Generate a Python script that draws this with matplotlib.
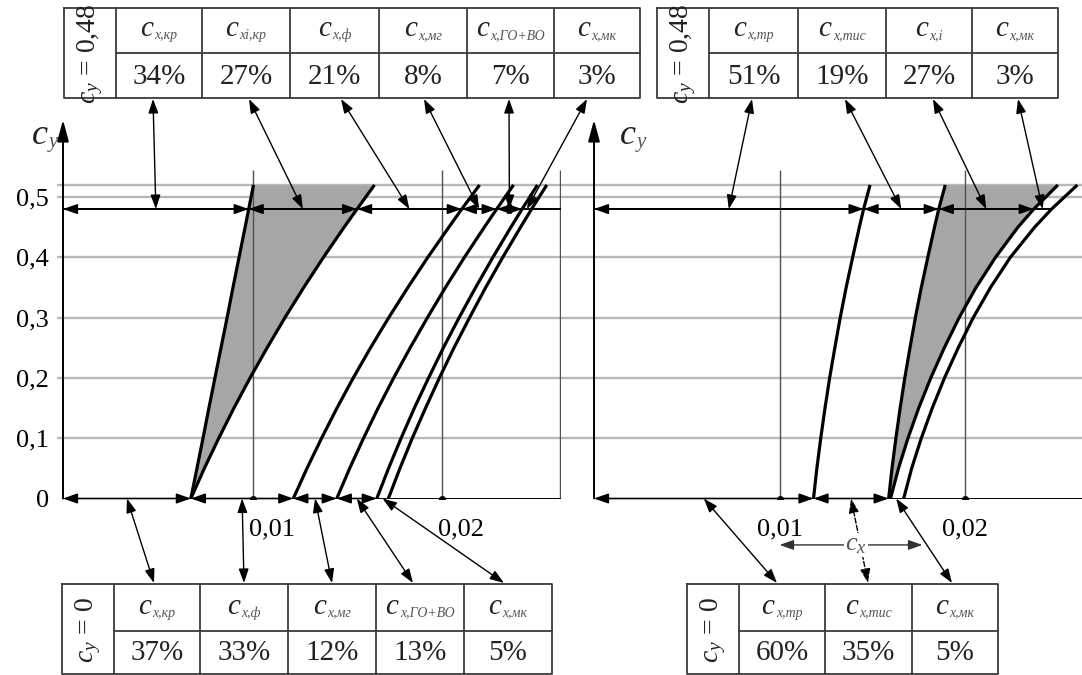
import numpy as np
import matplotlib.pyplot as plt
from matplotlib.patches import ConnectionPatch
from matplotlib.transforms import blended_transform_factory
from matplotlib.offsetbox import TextArea, HPacker, AnnotationBbox

plt.rcParams['font.family'] = ['Liberation Serif', 'DejaVu Serif']
plt.rcParams['mathtext.fontset'] = 'custom'
plt.rcParams['mathtext.rm'] = 'Liberation Serif'
plt.rcParams['mathtext.it'] = 'Liberation Serif:italic'
plt.rcParams['mathtext.bf'] = 'Liberation Serif:bold'

W, H = 1082, 675

# ---- data ----
cy_pts = [0.0, 0.05, 0.1, 0.15, 0.2, 0.25, 0.3, 0.35, 0.4, 0.45, 0.48, 0.52]

# left panel: build-up by aircraft parts
cx_wing = [0.00674, 0.00706, 0.00738, 0.00769, 0.00801, 0.00833,
           0.00865, 0.00896, 0.00928, 0.00960, 0.00979, 0.01004]
cx_wing_ind = [0.00674, 0.00745, 0.00821, 0.00901, 0.00986, 0.01076,
               0.01170, 0.01269, 0.01373, 0.01482, 0.01550, 0.01642]
cx_fus = [0.01214, 0.01286, 0.01363, 0.01444, 0.01530, 0.01621,
          0.01717, 0.01818, 0.01923, 0.02034, 0.02102, 0.02196]
cx_nac = [0.01443, 0.01511, 0.01584, 0.01661, 0.01743, 0.01830,
          0.01921, 0.02016, 0.02116, 0.02221, 0.02286, 0.02375]
cx_tail = [0.01654, 0.01716, 0.01782, 0.01852, 0.01927, 0.02005,
           0.02088, 0.02175, 0.02266, 0.02361, 0.02420, 0.02501]
cx_total = [0.01715, 0.01776, 0.01841, 0.01911, 0.01984, 0.02061,
            0.02143, 0.02228, 0.02318, 0.02412, 0.02470, 0.02550]

# right panel: build-up by drag type
cx_fric = [0.01183, 0.01201, 0.01222, 0.01245, 0.01270, 0.01298,
           0.01327, 0.01359, 0.01394, 0.01430, 0.01453, 0.01488]
cx_prof = [0.01588, 0.01606, 0.01627, 0.01650, 0.01675, 0.01703,
           0.01732, 0.01764, 0.01799, 0.01835, 0.01858, 0.01893]
cx_ind = [0.01598, 0.01641, 0.01692, 0.01750, 0.01815, 0.01888,
          0.01968, 0.02059, 0.02164, 0.02285, 0.02370, 0.02500]
cx_sum = [0.01669, 0.01712, 0.01764, 0.01823, 0.01889, 0.01963,
          0.02044, 0.02137, 0.02244, 0.02375, 0.02466, 0.02605]

cy_ticks = [0, 0.1, 0.2, 0.3, 0.4, 0.5]
cy_tick_labels = ['0', '0,1', '0,2', '0,3', '0,4', '0,5']
cx_ticks = [0.01, 0.02]
cx_tick_labels = ['0,01', '0,02']
cy_top = 0.52
cy_cut = 0.48

subs_tl = ['x,кр', 'xi,кр', 'x,ф', 'x,мг', 'x,ГО+ВО', 'x,мк']
vals_tl = ['34%', '27%', '21%', '8%', '7%', '3%']
subs_bl = ['x,кр', 'x,ф', 'x,мг', 'x,ГО+ВО', 'x,мк']
vals_bl = ['37%', '33%', '12%', '13%', '5%']
subs_tr = ['x,тр', 'x,тис', 'x,i', 'x,мк']
vals_tr = ['51%', '19%', '27%', '3%']
subs_br = ['x,тр', 'x,тис', 'x,мк']
vals_br = ['60%', '35%', '5%']


def fr(x0, y0, x1, y1):
    return [x0 / W, 1 - y1 / H, (x1 - x0) / W, (y1 - y0) / H]


fig = plt.figure(figsize=(W / 100, H / 100), dpi=100)

# overlay in pixel coords for tables and loose text
ov = fig.add_axes([0, 0, 1, 1])
ov.set_xlim(0, W)
ov.set_ylim(H, 0)
ov.axis('off')
ov.set_zorder(3)

axL = fig.add_axes(fr(63, 118.6, 561, 498.5))
axR = fig.add_axes(fr(594, 118.6, 1082, 498.5))
for ax in (axL, axR):
    ax.set_facecolor('none')
    for s in ax.spines.values():
        s.set_visible(False)

ARW = '<|-|>,head_length=0.85,head_width=0.3'
i48 = cy_pts.index(cy_cut)
cx_edge = 0.0262

# grid lines running across both panels
trans = blended_transform_factory(fig.transFigure, axL.transData)
axL.hlines(cy_ticks[1:] + [cy_top], 57 / W, 1.0, transform=trans,
           colors='#b8b8b8', lw=1.7, zorder=0.5, clip_on=False)


def dims(ax, xs, y):
    for a, b in zip(xs[:-1], xs[1:]):
        ax.annotate('', xy=(b, y), xytext=(a, y), annotation_clip=False,
                    arrowprops=dict(arrowstyle=ARW, mutation_scale=10, lw=1.2,
                                    color='k', shrinkA=0, shrinkB=0))


def yaxis_arrow(ax):
    ax.annotate('', xy=(0, 0.628), xytext=(0, 0), annotation_clip=False,
                arrowprops=dict(arrowstyle='-|>,head_length=1.3,head_width=0.35',
                                mutation_scale=10, lw=1.4, color='k',
                                shrinkA=0, shrinkB=0))


def csub(x, y, sub, big=21, small=10, color='#222222'):
    b = TextArea('c', textprops=dict(fontsize=big, style='italic', color=color))
    s = TextArea(sub, textprops=dict(fontsize=small, style='italic', color='#555555'))
    box = HPacker(children=[b, s], align='bottom', pad=0, sep=1)
    ab = AnnotationBbox(box, (x, y), xycoords='data', frameon=False,
                        box_alignment=(0.5, 0.5), pad=0)
    ov.add_artist(ab)


# ---- left panel ----
axL.fill_betweenx(cy_pts, cx_wing, cx_wing_ind, color='#a6a6a6', lw=0, zorder=1)
for c in (cx_wing, cx_wing_ind, cx_fus, cx_nac, cx_tail, cx_total):
    axL.plot(c, cy_pts, color='k', lw=2.3, zorder=3, solid_capstyle='butt')
axL.vlines(cx_ticks + [cx_edge], 0, 0.545, colors='#505050', lw=1, zorder=1.5)
axL.plot([0, cx_edge], [0, 0], color='k', lw=1.4, zorder=2)
axL.plot([0, cx_edge], [cy_cut, cy_cut], color='k', lw=1.4, zorder=2)
axL.plot(cx_ticks, [0, 0], 'o', color='k', ms=4, zorder=4)
yaxis_arrow(axL)

top_L = [0, cx_wing[i48], cx_wing_ind[i48], cx_fus[i48], cx_nac[i48], cx_tail[i48], cx_total[i48]]
bot_L = [0, cx_wing[0], cx_fus[0], cx_nac[0], cx_tail[0], cx_total[0]]
dims(axL, top_L[:-1], cy_cut)
dims(axL, bot_L[:-1], 0)

axL.set_yticks(cy_ticks, cy_tick_labels, fontsize=19)
axL.tick_params(axis='y', length=0, pad=10)
axL.set_xticks([])
for t, lab in zip(cx_ticks, cx_tick_labels):
    axL.text(t + 0.001, -0.052, lab, ha='center', va='center', fontsize=19)

# ---- right panel ----
axR.fill_betweenx(cy_pts, cx_prof, cx_ind, color='#a6a6a6', lw=0, zorder=1)
for c in (cx_fric, cx_prof, cx_ind, cx_sum):
    axR.plot(c, cy_pts, color='k', lw=2.3, zorder=3, solid_capstyle='butt')
axR.vlines(cx_ticks, 0, 0.545, colors='#505050', lw=1, zorder=1.5)
axR.plot([0, 0.0263], [0, 0], color='k', lw=1.4, zorder=2)
axR.plot([0, cx_sum[i48]], [cy_cut, cy_cut], color='k', lw=1.4, zorder=2)
axR.plot(cx_ticks, [0, 0], 'o', color='k', ms=4, zorder=4)
yaxis_arrow(axR)

top_R = [0, cx_fric[i48], cx_prof[i48], cx_ind[i48], cx_sum[i48]]
bot_R = [0, cx_fric[0], cx_prof[0], cx_sum[0]]
dims(axR, top_R[:-1], cy_cut)
dims(axR, bot_R[:-1], 0)
axR.set_xticks([])
axR.set_yticks([])
for t, lab in zip(cx_ticks, cx_tick_labels):
    axR.text(t, -0.052, lab, ha='center', va='center', fontsize=19)

# c_x span arrow under the right panel
axR.annotate('', xy=(0.0177, -0.077), xytext=(0.0100, -0.077), annotation_clip=False,
             arrowprops=dict(arrowstyle=ARW, mutation_scale=10, lw=1,
                             color='#333333', shrinkA=0, shrinkB=0))
fig.text(856 / W, 1 - 545 / H, r'$c_x$', ha='center', va='center', fontsize=19,
         color='#555555', zorder=6,
         bbox=dict(facecolor='white', edgecolor='none', pad=1))

for ax in (axL, axR):
    ax.set_ylim(0, 0.63)
axL.set_xlim(0, 0.02625)
axR.set_xlim(0, 0.0263)

# axis names
csub(45, 136, 'y', big=26, small=15)
csub(633, 136, 'y', big=26, small=15)


# ---- tables ----
def table(xe, yt, ym, yb, label, subs, vals):
    kw = dict(color='#3a3a3a', lw=1.3, solid_capstyle='projecting')
    ov.plot([xe[0], xe[-1], xe[-1], xe[0], xe[0]], [yt, yt, yb, yb, yt], **kw)
    for x in xe[1:-1]:
        ov.plot([x, x], [yt, yb], **kw)
    ov.plot([xe[1], xe[-1]], [ym, ym], **kw)
    ov.text((xe[0] + xe[1]) / 2, (yt + yb) / 2 + 1, label, rotation=90,
            ha='center', va='center', fontsize=20, color='#222222')
    for i, (s, v) in enumerate(zip(subs, vals)):
        xc = (xe[i + 1] + xe[i + 2]) / 2
        csub(xc, (yt + ym) / 2 - 1, s)
        ov.text(xc, (ym + yb) / 2 + 1, v, ha='center', va='center',
                fontsize=21, color='#222222')


table([64, 116, 202, 290, 379, 467, 554, 640], 8, 53, 98, r'$c_y$ = 0,48', subs_tl, vals_tl)
table([657, 709, 798, 886, 972, 1058], 8, 53, 98, r'$c_y$ = 0,48', subs_tr, vals_tr)
table([62, 114, 200, 288, 376, 464, 552], 584, 631, 674, r'$c_y$ = 0', subs_bl, vals_bl)
table([687, 739, 825, 912, 998], 584, 631, 674, r'$c_y$ = 0', subs_br, vals_br)


# ---- leaders from table cells to the dimension spans ----
def leader(ax, tx, ty, x, y, ls='-'):
    con = ConnectionPatch(xyA=(tx, ty), coordsA=ov.transData, xyB=(x, y),
                          coordsB=ax.transData, arrowstyle=ARW, mutation_scale=10,
                          lw=1, color='k', shrinkA=0, shrinkB=0, linestyle=ls,
                          zorder=4)
    fig.add_artist(con)


def mids(xs):
    return [(a + b) / 2 for a, b in zip(xs[:-1], xs[1:])]


for tx, m in zip([153, 249, 341, 424, 509, 587], mids(top_L)):
    leader(axL, tx, 99, m, cy_cut)
for tx, m in zip([752, 845, 933, 1018], mids(top_R)):
    leader(axR, tx, 99, m, cy_cut)
for tx, m in zip([154, 244, 332, 413, 504], mids(bot_L)):
    leader(axL, tx, 583, m, 0)
for tx, m, ls in zip([777, 868, 952], mids(bot_R), ['-', '--', '-']):
    leader(axR, tx, 583, m, 0, ls)

fig.savefig('out.png', dpi=100, facecolor='white')
